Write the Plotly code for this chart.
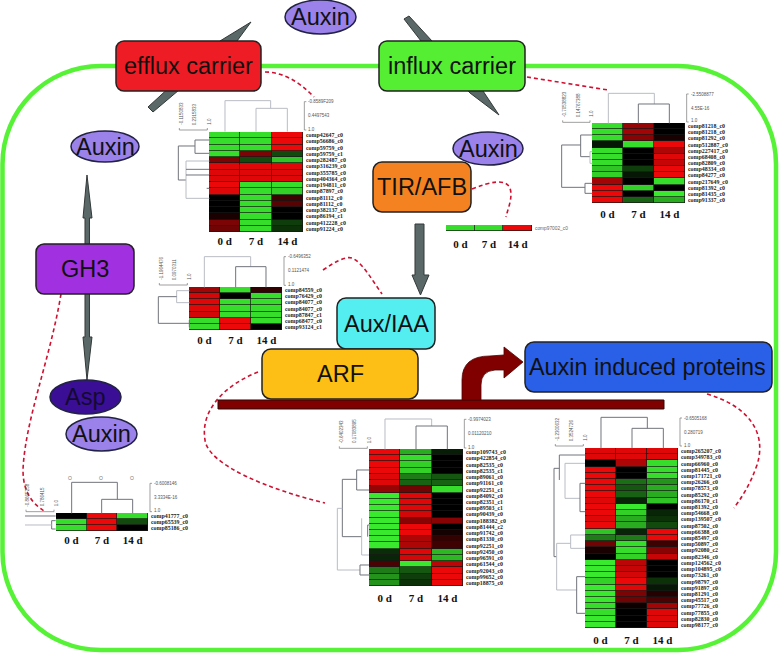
import plotly.graph_objects as go

W, H = 779, 654
days = ["0 d", "7 d", "14 d"]

efflux_genes = ["comp42647_c0","comp56686_c0","comp59759_c0","comp59759_c1","comp282487_c0","comp316239_c0","comp355785_c0","comp404364_c0","comp194811_c0","comp87897_c0","comp81112_c0","comp81112_c0","comp382137_c0","comp86194_c1","comp412228_c0","comp91224_c0"]
efflux_values = [[-.9,-.9,.95],[-.9,-.9,.95],[-.9,-.9,.95],[-.9,.5,-.3],[.5,-.3,-.8],[.9,.9,.9],[.9,.9,.9],[.9,.9,.9],[.95,-.9,-.9],[.9,-.9,-.85],[0,-.9,.25],[0,-.9,.35],[0,-.9,0],[.1,-.9,0],[.5,-.9,-.25],[.45,-.9,-.2]]

influx_genes = ["comp81218_c0","comp81218_c0","comp81292_c0","comp512887_c0","comp227417_c0","comp68408_c0","comp82809_c0","comp48334_c0","comp84277_c0","comp217649_c0","comp81392_c0","comp81435_c0","comp91337_c0"]
influx_values = [[-.9,.6,0],[-.9,.65,0],[-.9,.55,.1],[-.1,-.9,.95],[-.9,0,.7],[-.9,0,.9],[-.9,0,.8],[-.8,-.25,.95],[-.85,-.1,.95],[.65,0,-.9],[.95,-.85,0],[.95,0,-.95],[.95,-.4,-.7]]

tir_genes = ["comp97002_c0"]
tir_values = [[-.9,-.9,.95]]

aux_genes = ["comp84559_c0","comp76429_c0","comp84077_c0","comp84077_c0","comp87847_c1","comp68477_c0","comp93124_c1"]
aux_values = [[.65,-.9,.2],[.85,0,-.9],[.9,-.9,-.9],[.9,-.9,-.9],[.85,-.9,-.9],[-.9,.95,-.9],[-.9,.95,0]]

arf_genes = ["comp109743_c0","comp422854_c0","comp82535_c0","comp82535_c1","comp89061_c0","comp91161_c0","comp92251_c1","comp84092_c0","comp82351_c1","comp89503_c1","comp90439_c0","comp188382_c0","comp81444_c2","comp91742_c0","comp81330_c0","comp92251_c0","comp92450_c0","comp96591_c0","comp61544_c0","comp92043_c0","comp99652_c0","comp18875_c0"]
arf_values = [[.95,-.7,-.12],[.95,-.9,0],[.95,-.85,0],[.95,-.85,0],[.9,-.5,-.35],[.9,-.4,-.4],[.6,.45,-.9],[-.95,.9,0],[-.95,.9,0],[-.95,.9,0],[-.95,.85,0],[-.95,.55,.55],[-.95,.95,0],[-.95,.95,.08],[-.95,.7,.2],[-.95,.7,.25],[-.18,.9,-.75],[-.15,.85,-.75],[.3,-.95,.75],[-.5,-.35,.95],[-.6,-.25,.95],[-.6,-.2,.95]]

protein_genes = ["comp265207_c0","comp349783_c0","comp66960_c0","comp81445_c0","comp171721_c0","comp26266_c0","comp78573_c0","comp85292_c0","comp86170_c1","comp81392_c0","comp54668_c0","comp139507_c0","comp87502_c0","comp66388_c0","comp85497_c0","comp50897_c0","comp92080_c2","comp82346_c0","comp124562_c0","comp104895_c0","comp73261_c0","comp98797_c0","comp91897_c0","comp81291_c0","comp45517_c0","comp77726_c0","comp77855_c0","comp82830_c0","comp98177_c0"]
protein_values = [[.9,.9,.9],[.9,.9,.9],[0,.7,-.9],[.95,0,-.9],[.95,0,-.9],[.95,-.45,-.6],[.95,-.35,-.7],[.95,-.4,-.7],[.9,-.15,-.8],[.95,-.95,0],[.95,-.85,-.15],[.9,-.7,-.2],[.95,-.7,-.3],[-.8,-.15,.95],[-.5,-.5,.95],[.45,-.9,.25],[.1,-.9,.55],[0,-.85,.8],[-.95,.75,0],[-.95,.8,0],[-.95,.85,0],[-.85,.95,-.2],[-.95,.9,-.1],[-.95,.5,.15],[-.95,.45,.3],[-.9,.05,.65],[-.9,0,.9],[-.95,0,.9],[-.95,0,.9]]

gh3_genes = ["comp41777_c0","comp65539_c0","comp85186_c0"]
gh3_values = [[0,.95,-.9],[-.9,.95,-.3],[-.9,.95,0]]

# ---------- helpers ----------
def X(x): return x / W
def Y(y): return 1 - y / H
def P(x, y): return f"{X(x):.5f},{Y(y):.5f}"

shapes, annotations = [], []
GREY, GREEN_FRAME = "#5a6868", "#55f235"

def path(cmds, fill=None, line="#222222", width=1.5, dash=None):
    d = ""
    for c in cmds:
        d += c[0] + " " + " ".join(P(c[i], c[i + 1]) for i in range(1, len(c), 2)) + " "
    if fill: d += "Z"
    ln = dict(color=line, width=width)
    if dash: ln["dash"] = dash
    s = dict(type="path", xref="paper", yref="paper", path=d.strip(), line=ln)
    if fill: s["fillcolor"] = fill
    shapes.append(s)

def rrect(x0, y0, x1, y1, r, fill, line="#222222", width=1.5):
    k = r * 0.4477
    path([("M", x0 + r, y0), ("L", x1 - r, y0), ("C", x1 - k, y0, x1, y0 + k, x1, y0 + r), ("L", x1, y1 - r),
          ("C", x1, y1 - k, x1 - k, y1, x1 - r, y1), ("L", x0 + r, y1), ("C", x0 + k, y1, x0, y1 - k, x0, y1 - r),
          ("L", x0, y0 + r), ("C", x0, y0 + k, x0 + k, y0, x0 + r, y0)], fill, line, width)

def ellipse(x0, y0, x1, y1, fill):
    shapes.append(dict(type="circle", xref="paper", yref="paper", x0=X(x0), x1=X(x1), y0=Y(y1), y1=Y(y0),
                       fillcolor=fill, line=dict(color="#222244", width=1.5)))

def label(x, y, t, size=23.5, color="#111111", family="Liberation Sans", angle=0, xa="center", ya="middle"):
    annotations.append(dict(x=X(x), y=Y(y), xref="paper", yref="paper", text=t, showarrow=False, textangle=angle,
                            xanchor=xa, yanchor=ya, borderpad=0, font=dict(size=size, color=color, family=family)))

def poly(pts, fill=GREY):
    path([("M", *pts[0])] + [("L", *p) for p in pts[1:]], fill, "#333838", 1)

def dashed(cmds):
    path(cmds, None, "#d01030", 1.6, "4px,3px")

def dendro(ox, oy, lines):
    """polylines given in 3x zoom units from an origin"""
    for pts, col in lines:
        path([("M", ox + pts[0][0] / 3, oy + pts[0][1] / 3)] + [("L", ox + a / 3, oy + b / 3) for a, b in pts[1:]], None, col, 1)

def col_scale(ox, oy, x, y0, y1, texts):
    ym = (y0 + y1) / 2
    path([("M", ox + x / 3 + 2, oy + y0 / 3), ("L", ox + x / 3, oy + y0 / 3), ("L", ox + x / 3, oy + y1 / 3), ("L", ox + x / 3 + 2, oy + y1 / 3)], None, "#777777", 0.7)
    for yy, t in zip((y0, ym, y1 - 3), texts):
        label(ox + x / 3 + 3, oy + yy / 3, t, 4.5, "#555555", "Liberation Sans", xa="left")

def row_scale(ox, oy, y, xs, texts):
    path([("M", ox + xs[0] / 3, oy + y / 3 - 2), ("L", ox + xs[0] / 3, oy + y / 3), ("L", ox + xs[2] / 3, oy + y / 3), ("L", ox + xs[2] / 3, oy + y / 3 - 2)], None, "#777777", 0.7)
    for xx, t in zip(xs, texts):
        label(ox + xx / 3 + 2, oy + y / 3 - 4, t, 4.5, "#555555", "Liberation Sans", angle=-90, ya="bottom")

# ---------- frame, arrows (under boxes) ----------
rrect(2.5, 66, 776, 650, 98, "rgba(0,0,0,0)", GREEN_FRAME, 4.5)
poly([(148, 107), (153, 112), (237, 41), (251, 22), (220, 41)])
poly([(404, 19), (409, 16), (432, 41), (483, 91), (499, 115), (470, 93), (421, 41)])
poly([(87, 175), (92, 218), (89.5, 218), (89.5, 337), (92, 337), (87, 380), (83, 337), (85, 337), (85, 218), (83, 218)])
poly([(415, 224), (424, 224), (424, 275), (429, 275), (420.5, 295), (412, 275), (415, 275)])

# ---------- red dashed links ----------
dashed([("M", 265, 72), ("Q", 290, 72, 314, 97)])
dashed([("M", 527, 77), ("L", 608, 90)])
dashed([("M", 472, 189), ("C", 490, 182, 505, 178, 510, 188), ("C", 513, 198, 508, 208, 506, 217)])
dashed([("M", 323, 270), ("C", 335, 262, 345, 256, 352, 258), ("C", 362, 262, 372, 280, 382, 294)])
dashed([("M", 258, 372), ("C", 225, 385, 200, 410, 205, 440), ("C", 208, 465, 270, 490, 325, 503)])
dashed([("M", 707, 394), ("C", 745, 405, 768, 430, 757, 465), ("C", 750, 485, 742, 497, 734, 508)])
dashed([("M", 61, 294), ("C", 50, 360, 25, 420, 23, 470), ("C", 23, 495, 35, 505, 44, 511)])

# ---------- boxes ----------
rrect(116, 41, 261, 91, 8, "#ee1c25")
label(188.5, 66, "efflux carrier")
rrect(379, 41, 525, 91, 8, "#55ee33")
label(452, 66, "influx carrier")
rrect(373, 162, 471, 212, 9, "#f58220")
label(422, 187, "TIR/AFB")
rrect(36, 244, 134, 294, 8, "#a030e0")
label(85, 269, "GH3")
rrect(337, 298, 435, 349, 9, "#55eef0")
label(386, 324, "Aux/IAA")
rrect(262, 349, 418, 399, 9, "#fdbe15")
label(340, 374, "ARF")
rrect(525, 342, 772, 392, 9, "#2a5fe8")
label(647, 367, "Auxin induced proteins", 23.4)
for box in [(285, 0, 356, 34, 320.5, 17), (71, 131, 139, 162, 105, 146.5), (453, 132, 523, 165, 488, 148.5), (66, 417, 137, 451, 101.5, 434)]:
    ellipse(box[0], box[1], box[2], box[3], "#9b82ea")
    label(box[4], box[5], "Auxin")
ellipse(50, 380, 121, 414, "#3a0f96")
label(85.5, 397, "Asp", color="#140a30")

# ---------- promoter bar and curved arrow ----------
rrect(218, 400, 664, 409, 0.1, "#800000", "#2a0a0a", 1)
path([("M", 462, 400), ("L", 462, 380), ("Q", 462, 356, 490, 356), ("L", 504, 355), ("L", 504, 347), ("L", 523, 362), ("L", 504, 378),
      ("L", 504, 370), ("L", 495, 370), ("Q", 481, 371, 481, 385), ("L", 481, 400)], "#800000", "#500000", 0.8)

# ---------- dendrograms ----------
LG, DG = "#b8bcc4", "#70747c"
dendro(150, 80, [([(225, 155), (225, 62), (362, 62), (362, 85)], LG), ([(318, 155), (318, 85), (412, 85), (412, 155)], LG),
                 ([(178, 180), (135, 180), (135, 220), (178, 220)], DG), ([(135, 198), (85, 198), (85, 300), (108, 300)], DG),
                 ([(178, 243), (108, 243), (108, 355), (178, 355)], LG), ([(108, 268), (178, 268)], DG), ([(108, 285), (178, 285)], DG), ([(170, 325), (178, 325)], DG)])
col_scale(150, 80, 463, 65, 150, ["-0.8589F209", "0.4497543", "1.0"])
row_scale(150, 80, 150, (88, 130, 172), ["-0.1150833", "0.2315833", "1.0"])

dendro(540, 80, [([(205, 130), (205, 40), (343, 40), (343, 72)], LG), ([(295, 130), (295, 72), (388, 72), (388, 130)], DG),
                 ([(157, 165), (122, 165), (122, 230), (150, 230)], DG), ([(122, 195), (65, 195), (65, 322), (135, 322)], DG),
                 ([(157, 310), (135, 310), (135, 340), (157, 340)], DG), ([(157, 215), (150, 215), (150, 250), (157, 250)], LG)])
col_scale(540, 80, 440, 42, 126, ["-2.5508877", "4.55E-16", "1.0"])
row_scale(540, 80, 127, (68, 108, 150), ["-0.70538823", "0.14767388", "1.0"])

dendro(140, 240, [([(193, 142), (193, 50), (332, 50), (332, 80)], LG), ([(287, 142), (287, 80), (378, 80), (378, 142)], DG),
                  ([(148, 152), (110, 152), (110, 188), (148, 188)], LG), ([(110, 170), (55, 170), (55, 250), (148, 250)], DG), ([(148, 240), (148, 262)], DG)])
col_scale(140, 240, 432, 50, 136, ["-0.6496352", "0.1121474", "1.0"])
row_scale(140, 240, 135, (58, 98, 142), ["-1.1964476", "0.0970311", "1.0"])

dendro(300, 410, [([(255, 118), (255, 27), (395, 27), (395, 48)], LG), ([(348, 118), (348, 48), (442, 48), (442, 118)], DG),
                  ([(207, 180), (170, 180), (170, 240), (207, 240)], DG), ([(170, 208), (127, 208), (127, 380), (185, 380)], DG),
                  ([(185, 325), (185, 435), (207, 435)], LG), ([(127, 295), (112, 295), (112, 480), (180, 480)], LG),
                  ([(207, 465), (180, 465), (180, 495), (207, 495)], DG), ([(207, 345), (203, 345), (203, 380)], DG)])
col_scale(300, 410, 493, 28, 114, ["-0.9974023", "0.01120210", "1.0"])
row_scale(300, 410, 115, (118, 158, 202), ["-0.6402343", "0.17083895", "1.0"])

dendro(530, 380, [([(213, 205), (213, 112), (352, 112), (352, 145)], DG), ([(306, 205), (306, 145), (400, 145), (400, 205)], DG),
                  ([(165, 225), (88, 225), (88, 300)], DG), ([(88, 265), (72, 265), (72, 530), (80, 530)], DG),
                  ([(165, 250), (105, 250), (105, 355), (150, 355)], LG), ([(150, 310), (150, 395), (165, 395)], DG), ([(150, 310), (165, 310)], DG),
                  ([(80, 630), (80, 490), (122, 490)], LG), ([(165, 465), (122, 465), (122, 505), (165, 505)], LG),
                  ([(80, 630), (140, 630)], LG), ([(165, 590), (140, 590), (140, 700), (165, 700)], DG)])
col_scale(530, 380, 450, 114, 198, ["-0.6505168", "0.280719", "1.0"])
row_scale(530, 380, 198, (76, 118, 160), ["-1.2300632", "0.3524726", "1.0"])

dendro(0, 360, [([(215, 460), (215, 367), (352, 367), (352, 418)], DG), ([(305, 460), (305, 418), (398, 418), (398, 460)], DG),
                ([(167, 468), (75, 468)], DG), ([(167, 482), (155, 482), (155, 507), (167, 507)], DG), ([(155, 495), (75, 495)], LG)])
col_scale(0, 360, 450, 370, 455, ["-0.6008146", "3.3334E-16", "1.0"])
row_scale(0, 360, 455, (78, 120, 162), ["-0.866F258", "0.786415", "1.0"])
for xx in (70, 101, 132):
    label(xx, 478, "O", 5, "#777777")

# ---------- heatmaps ----------
panels = [
    (efflux_genes, efflux_values, (209, 303, 132, 232), 5.9, "Liberation Serif", 1),
    (influx_genes, influx_values, (592, 685, 123, 203), 5.9, "Liberation Serif", 3),
    (tir_genes, tir_values, (446, 532, 225, 231), 4.8, "Liberation Sans", 5),
    (aux_genes, aux_values, (189, 282, 287, 330), 5.9, "Liberation Serif", 2),
    (arf_genes, arf_values, (369, 463, 449, 586), 5.9, "Liberation Serif", 4),
    (protein_genes, protein_values, (585, 678, 448, 628), 5.9, "Liberation Serif", 4),
    (gh3_genes, gh3_values, (56, 148, 513, 531), 5.9, "Liberation Serif", 1),
]
colorscale = [[0, "#3cf52f"], [0.5, "#000000"], [1, "#f80808"]]
traces, axes = [], {}
for i, (genes, vals, (x0, x1, y0, y1), fs, fam, standoff) in enumerate(panels, start=1):
    traces.append(go.Heatmap(z=vals, xaxis=f"x{i}", yaxis=f"y{i}", colorscale=colorscale, zmin=-1, zmax=1, showscale=False,
                             xgap=0.7, ygap=0.7, hoverinfo="skip"))
    axes[f"xaxis{i}"] = dict(domain=[X(x0), X(x1)], anchor=f"y{i}", tickmode="array", tickvals=[0, 1, 2], ticktext=days,
                             showgrid=False, zeroline=False, ticks="", ticklabelstandoff=standoff, showline=False,
                             tickfont=dict(family="Liberation Serif", size=11, color="#111111", weight="bold"), fixedrange=True)
    axes[f"yaxis{i}"] = dict(domain=[Y(y1), Y(y0)], anchor=f"x{i}", side="right", autorange="reversed", tickmode="array",
                             tickvals=list(range(len(genes))), ticktext=genes, showgrid=False, zeroline=False, ticks="",
                             ticklabelstandoff=2, tickfont=dict(family=fam, size=fs, color="#222222" if fam.endswith("Serif") else "#666666",
                                                                weight="bold" if fam.endswith("Serif") else "normal"), fixedrange=True)

fig = go.Figure(traces)
fig.update_layout(width=W, height=H, autosize=False, margin=dict(l=0, r=0, t=0, b=0, pad=0), paper_bgcolor="white",
                  plot_bgcolor="#181818", showlegend=False, shapes=shapes, annotations=annotations, **axes)
fig.write_html("out.html", post_script="document.body.style.margin='0';document.documentElement.style.overflow='hidden';",
               config=dict(displayModeBar=False))
